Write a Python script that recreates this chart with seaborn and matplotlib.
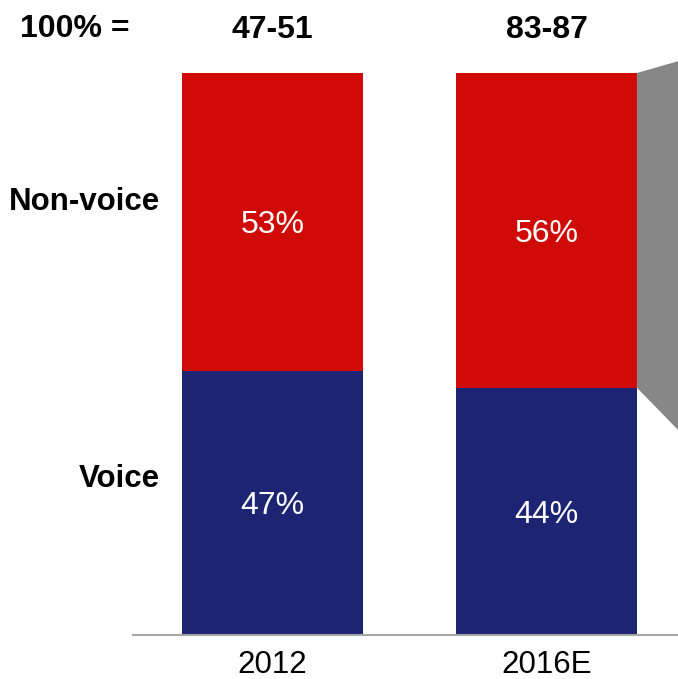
import matplotlib
matplotlib.use("Agg")
import matplotlib.pyplot as plt
from matplotlib.patches import Polygon
import seaborn as sns
import pandas as pd

# data
years = ["2012", "2016E"]
voice = [47, 44]
non_voice = [53, 56]
market_size = ["47-51", "83-87"]

red = "#D00A06"
blue = "#1C2473"
bar_w = 0.66

sns.set_style("white")
plt.rcParams['font.family'] = ['Liberation Sans', 'DejaVu Sans']
plt.rcParams['text.color'] = 'black'
plt.rcParams['xtick.color'] = 'black'

df = pd.DataFrame({"year": years, "voice": voice, "non_voice": non_voice})
df["total"] = df["voice"] + df["non_voice"]

fig = plt.figure(figsize=(6.78, 6.79), dpi=100)
ax = fig.add_axes([133 / 678, 44 / 679, 545 / 678, 562 / 679])

# stacked bars: full bar in red, voice part on top in blue
sns.barplot(data=df, x="year", y="total", color=red, width=bar_w,
            saturation=1, linewidth=0, ax=ax)
sns.barplot(data=df, x="year", y="voice", color=blue, width=bar_w,
            saturation=1, linewidth=0, ax=ax)

ax.set_xlim(-0.509, 1.48)
ax.set_ylim(0, 100)

narrow = ['Liberation Sans Narrow', 'Liberation Sans']

# segment labels
for i in range(len(years)):
    ax.text(i, voice[i] / 2, f"{voice[i]}%", color="white", fontsize=23,
            ha="center", va="center_baseline")
    ax.text(i, voice[i] + non_voice[i] / 2, f"{non_voice[i]}%", color="white",
            fontsize=23, ha="center", va="center_baseline")
    # totals on top
    ax.text(i, 1.077, market_size[i], transform=ax.get_xaxis_transform(),
            fontsize=23, fontweight="bold", ha="center", va="center",
            family=narrow)

fig.text(20 / 678, 1 - 29 / 679, "100% =", fontsize=23, fontweight="bold",
         ha="left", va="center", family=narrow)

# series labels on the left
fig.text(160 / 678, 1 - 202 / 679, "Non-voice", fontsize=22.5,
         fontweight="bold", ha="right", va="center")
fig.text(160 / 678, 1 - 479 / 679, "Voice", fontsize=22.5,
         fontweight="bold", ha="right", va="center")

# grey connector shape to the right of the last bar
edge = len(years) - 1 + bar_w / 2
right = ax.get_xlim()[1]
shape = Polygon([(edge, df["total"].iloc[-1]), (right, 102.1),
                 (right, 36.5), (edge, voice[-1])],
                closed=True, color="#878787", clip_on=False, lw=0)
ax.add_patch(shape)

# axes styling
for s in ["top", "left", "right"]:
    ax.spines[s].set_visible(False)
ax.spines["bottom"].set_color("#A6A6A6")
ax.spines["bottom"].set_linewidth(1.5)
ax.set_yticks([])
ax.set_xlabel("")
ax.set_ylabel("")
ax.tick_params(axis="x", length=0, pad=11, labelsize=22.5)

fig.savefig("out.png", dpi=100)
